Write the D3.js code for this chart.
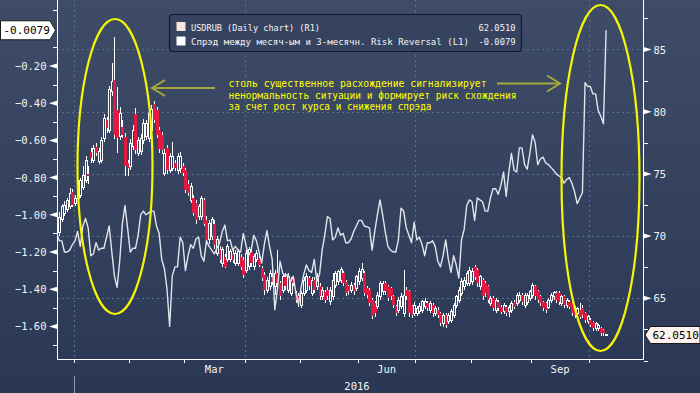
<!DOCTYPE html>
<html>
<head>
<meta charset="utf-8">
<style>
    body { margin: 0; background: #2b3a57; }
    svg { display: block; font-family: 'DejaVu Sans Mono', monospace; }
</style>
</head>
<body>
<svg width="700" height="393"></svg>

<script src="https://d3js.org/d3.v7.min.js"></script>
<script>
    // trading days (weekdays) shown on the chart
    const firstDay = new Date(2015, 11, 23);
    const lastDay = new Date(2016, 9, 11);

    // USDRUB daily candles (right axis)
    const rubOpen = [
        71.3,70.25,71.3,71.8,72.1,72.4,73.55,72.6,73.0,73.3,
        73.9,74.5,75.0,76.8,76.1,77.2,76.0,76.1,77.85,79.35,
        78.5,81.6,82.55,80.15,78.0,78.8,78.0,75.85,75.6,77.2,
        79.85,76.65,76.8,77.7,78.0,77.85,78.5,80.65,80.15,78.55,
        78.15,75.05,77.05,75.3,75.4,75.85,75.3,75.4,75.6,75.3,
        74.2,72.9,73.05,72.65,71.55,71.55,72.9,71.3,69.7,69.95,
        71.0,68.6,68.9,67.8,68.35,68.1,68.1,68.6,67.8,67.8,
        68.35,68.1,67.25,67.55,68.75,67.55,68.1,68.2,67.4,66.85,
        65.65,65.95,66.75,65.95,67.0,66.2,65.65,66.75,65.65,65.4,
        66.6,65.4,65.15,64.45,65.4,65.65,66.6,65.4,66.45,65.95,
        65.95,65.15,65.5,65.65,64.75,65.15,66.05,66.35,66.4,67.0,
        66.35,65.95,65.65,66.05,65.8,66.35,66.6,67.0,65.8,65.65,
        64.85,64.6,64.35,65.15,65.55,66.2,65.95,65.8,65.15,64.35,
        64.05,64.35,63.8,65.65,65.55,64.35,63.8,63.8,63.95,64.05,
        64.35,64.6,64.05,64.45,63.8,64.05,63.8,63.0,63.65,63.15,
        63.25,63.65,64.45,64.85,65.4,65.95,66.2,66.2,66.35,67.55,
        67.25,65.95,66.45,66.2,65.95,64.6,65.0,64.05,64.7,64.3,
        63.9,64.3,63.9,64.05,64.7,64.6,64.85,65.25,64.45,64.7,
        65.0,65.25,65.95,65.55,65.15,64.7,64.6,64.3,64.85,65.15,
        65.4,65.4,64.6,65.15,64.45,64.7,64.6,64.2,63.8,64.05,
        64.2,63.8,63.1,63.25,63.1,62.6,62.6,62.6,62.45,62.0
    ];
    const rubHigh = [
        71.6,71.9,72.6,72.8,73.1,73.9,73.8,73.3,74.5,74.7,
        75.6,76.4,75.6,77.1,77.3,77.5,77.1,78.0,79.8,79.6,
        82.1,83.9,86.0,82.0,80.4,79.3,78.3,76.1,77.8,78.9,
        80.3,78.0,78.2,79.4,79.3,80.1,80.5,80.9,80.4,78.8,
        78.4,77.0,77.3,76.7,77.6,76.1,76.7,76.8,75.9,75.5,
        74.5,74.3,73.3,72.9,72.6,73.2,73.1,71.6,71.3,71.5,
        71.3,70.0,69.2,69.1,68.6,69.4,69.0,68.9,68.9,69.0,
        68.6,68.3,68.9,69.1,69.0,68.6,68.9,68.5,67.6,67.1,
        66.7,67.3,67.0,67.3,68.9,66.4,67.0,67.0,67.0,66.7,
        66.8,65.6,65.4,65.6,66.7,67.0,66.8,66.7,66.7,67.0,
        66.2,65.9,65.7,65.9,65.9,67.0,67.2,67.3,67.5,67.2,
        66.5,66.1,66.3,66.2,66.9,67.4,67.8,67.2,66.0,65.8,
        65.0,64.8,65.5,66.4,66.4,66.4,66.1,65.9,65.3,64.5,
        65.1,65.4,67.3,65.9,65.7,64.5,64.7,64.4,64.6,64.9,
        65.0,64.8,64.8,64.6,64.4,64.3,63.9,63.8,63.8,63.8,
        64.1,64.6,65.3,65.9,66.6,66.7,67.2,67.5,67.4,67.7,
        67.4,66.9,66.6,66.4,66.1,65.2,65.2,65.0,64.9,64.5,
        64.6,64.5,64.5,64.8,64.9,65.4,65.5,65.4,65.4,65.4,
        65.7,66.2,66.1,65.7,65.3,64.8,64.7,65.0,65.4,65.6,
        65.6,65.6,65.3,65.3,65.0,64.9,64.7,64.4,64.3,64.6,
        64.45,63.9,63.65,63.4,63.2,63.1,62.9,62.7,62.5,62.1
    ];
    const rubLow = [
        69.7,70.0,71.1,71.6,71.9,72.2,72.3,72.4,72.8,73.1,
        73.7,74.3,74.2,75.9,75.9,76.4,75.8,75.9,77.6,78.3,
        78.3,81.3,77.8,76.7,77.7,77.9,74.8,74.8,75.3,76.9,
        76.6,76.4,76.5,77.4,77.7,77.6,78.3,79.1,77.9,76.7,
        76.6,74.8,75.0,75.1,75.2,75.2,75.0,75.1,74.8,73.5,
        73.2,72.7,71.6,71.0,71.3,71.3,70.8,69.4,69.4,69.7,
        69.0,68.4,67.8,67.5,67.4,67.9,67.9,67.8,67.6,67.6,
        67.3,66.6,67.0,67.3,67.5,67.3,67.9,67.5,66.4,65.3,
        65.4,65.7,66.1,65.3,66.0,64.9,65.4,65.7,65.4,65.2,
        66.0,64.6,64.3,64.2,65.2,65.4,65.7,65.2,65.4,65.7,
        64.9,64.9,64.6,64.9,64.5,64.9,65.8,66.1,66.2,66.0,
        65.2,65.3,65.4,65.3,65.6,66.1,66.4,65.2,65.0,64.4,
        63.3,63.5,64.1,64.9,65.3,65.3,64.8,64.9,64.2,63.6,
        63.8,64.1,63.5,64.9,63.5,63.4,63.6,63.6,63.7,63.8,
        64.1,64.0,63.8,63.5,63.6,63.4,62.8,62.7,62.6,62.9,
        63.0,63.4,64.2,64.6,65.2,65.7,66.0,66.0,66.1,66.5,
        65.9,65.7,64.9,65.1,64.6,64.4,64.0,63.8,64.0,63.7,
        63.7,63.6,63.5,63.8,64.1,64.4,64.6,64.5,64.2,64.5,
        64.8,65.0,64.9,64.6,64.4,64.0,63.8,64.1,64.6,64.9,
        64.6,64.5,64.4,64.2,64.2,64.1,63.6,63.4,63.6,63.3,
        63.4,63.0,62.9,62.7,62.4,62.4,62.4,62.0,62.0,61.95
    ];
    const rubClose = [
        70.25,71.5,72.35,72.5,72.9,73.4,72.5,73.0,73.45,74.5,
        74.9,76.1,74.8,76.25,77.05,76.65,76.8,77.7,79.45,78.65,
        81.75,82.4,78.15,77.85,79.85,78.15,75.6,75.45,77.45,78.5,
        76.9,77.7,77.85,79.05,79.05,79.85,80.15,79.35,78.15,77.0,
        76.9,76.65,75.3,76.4,76.4,75.45,76.4,76.4,75.05,73.7,
        73.45,74.0,71.85,71.3,72.35,73.05,71.0,69.7,71.0,71.3,
        69.3,69.7,68.1,68.9,67.55,69.15,68.75,68.1,68.6,68.75,
        67.55,66.85,68.6,68.9,67.8,68.35,68.6,67.7,66.6,65.65,
        66.45,67.0,66.35,67.0,66.2,65.15,66.75,65.95,66.75,66.45,
        66.2,64.85,64.75,65.4,66.45,66.75,65.95,66.45,65.65,66.75,
        65.15,65.65,64.85,65.15,65.65,66.45,67.0,67.15,67.3,66.2,
        65.4,65.55,66.05,65.55,66.75,67.15,67.3,65.4,65.25,64.6,
        63.55,63.8,65.25,66.2,66.2,65.55,65.0,65.15,64.45,63.8,
        64.85,65.15,65.25,65.15,63.8,63.65,64.45,64.2,64.35,64.75,
        64.75,64.2,64.6,63.8,64.2,63.65,63.0,63.65,62.85,63.65,
        63.95,64.45,65.15,65.65,66.35,66.45,67.0,67.25,67.15,66.75,
        66.2,66.75,65.15,65.4,64.85,65.0,64.2,64.85,64.2,63.9,
        64.45,63.8,64.3,64.6,64.3,65.25,65.25,64.7,65.25,65.25,
        65.55,66.05,65.15,64.85,64.6,64.2,64.05,64.85,65.25,65.45,
        64.85,64.7,65.15,64.45,64.85,64.3,63.8,63.65,64.2,63.5,
        63.65,63.25,63.5,62.85,62.6,63.0,62.85,62.2,62.2,62.051
    ];

    // 1M - 3M risk reversal spread (left axis)
    const spread = [
        -1.10,-1.14,-1.14,-1.20,-1.20,-1.19,-1.16,-1.14,-1.09,-1.17,
        -1.06,-1.02,-1.07,-1.22,-1.21,-1.15,-1.19,-1.18,-1.18,-1.12,
        -1.06,-1.20,-1.33,-1.39,-1.25,-1.05,-0.95,-1.07,-1.20,-1.18,
        -1.18,-1.11,-1.00,-0.98,-1.00,-0.99,-0.98,-0.98,-1.06,-1.10,
        -1.24,-1.29,-1.40,-1.60,-1.33,-1.28,-1.28,-1.12,-1.15,-1.30,
        -1.22,-1.16,-1.18,-1.13,-1.12,-1.22,-1.25,-1.14,-1.17,-1.19,
        -1.21,-1.18,-1.15,-1.09,-1.055,-1.14,-1.135,-1.19,-1.17,-1.19,
        -1.20,-1.10,-1.16,-1.22,-1.19,-1.11,-1.14,-1.20,-1.26,-1.16,
        -1.085,-1.17,-1.24,-1.51,-1.40,-1.25,-1.315,-1.33,-1.32,-1.36,
        -1.33,-1.42,-1.48,-1.39,-1.32,-1.27,-1.30,-1.31,-1.24,-1.36,
        -1.32,-1.19,-1.11,-1.01,-1.02,-1.135,-1.12,-1.07,-1.11,-1.10,
        -1.15,-1.15,-1.13,-1.09,-1.06,-1.03,-1.03,-1.06,-1.064,-1.07,
        -1.19,-1.09,-1.00,-0.92,-1.00,-1.09,-1.17,-1.19,-1.20,-1.20,
        -1.135,-0.965,-0.98,-1.07,-1.11,-1.15,-1.04,-1.135,-1.12,-1.16,
        -1.22,-1.15,-1.15,-1.14,-1.17,-1.25,-1.28,-1.22,-1.135,-1.24,
        -1.31,-1.22,-1.27,-1.34,-1.135,-1.08,-0.95,-0.92,-0.93,-1.03,
        -0.91,-0.92,-0.93,-0.98,-0.98,-0.91,-0.86,-0.86,-0.89,-0.84,
        -0.77,-0.90,-0.77,-0.67,-0.76,-0.77,-0.64,-0.64,-0.73,-0.755,
        -0.67,-0.57,-0.61,-0.73,-0.70,-0.69,-0.72,-0.73,-0.745,-0.76,
        -0.78,-0.79,-0.80,-0.83,-0.81,-0.80,-0.83,-0.875,-0.94,-0.91,
        -0.88,-0.29,-0.31,-0.31,-0.35,-0.35,-0.44,-0.47,-0.51,-0.0079
    ];

    const leftMajor = [-1.6, -1.4, -1.2, -1.0, -0.8, -0.6, -0.4, -0.2];
    const leftMinor = [-1.7, -1.5, -1.3, -1.1, -0.9, -0.7, -0.5, -0.3, -0.1, 0.1];
    const rightMajor = [65, 70, 75, 80, 85];
    const rightMinor = [60, 62.5, 67.5, 72.5, 77.5, 82.5, 87.5];
    const monthNames = ["Mar", "Jun", "Sep"];
    const yearLabel = "2016";

    const legendNames = ["USDRUB (Daily chart) (R1)",
        "Спрэд между месяч-ым и 3-месячн. Risk Reversal (L1)"];
    const lastRub = "62.0510";
    const lastSpread = "-0.0079";
    const noteLines = [
        "столь существенное расхождение сигнализирует",
        "ненормальность ситуации и формирует риск схождения",
        "за счет рост курса и снижения спрэда"
    ];

    // ------------------------------------------------------------
    let width = 700, height = 393;
    let plotL = 57, plotR = 643.7, plotB = 359;

    let svg = d3.select("svg");
    let defs = svg.append("defs");

    let bg = defs.append("linearGradient").attr("id", "bg")
        .attr("x1", 0).attr("y1", 0).attr("x2", 0).attr("y2", 1);
    bg.append("stop").attr("offset", "0%").attr("stop-color", "#3f4c68");
    bg.append("stop").attr("offset", "100%").attr("stop-color", "#2a3855");

    defs.append("clipPath").attr("id", "plotclip")
        .append("rect")
        .attr("x", plotL + 0.5).attr("y", 0)
        .attr("width", plotR - plotL - 1).attr("height", plotB);

    svg.append("rect").attr("width", width).attr("height", height).attr("fill", "url(#bg)");

    let days = d3.timeDay.range(firstDay, d3.timeDay.offset(lastDay, 1))
        .filter(d => d.getDay() !== 0 && d.getDay() !== 6);

    let x = d3.scaleLinear().domain([0, days.length - 1]).range([56.6, 606.1]);
    let yR = d3.scaleLinear().domain([60, 90]).range([360.5, -12.7]);
    let yL = d3.scaleLinear().domain([-1.8, 0.2]).range([363.6, -8.4]);

    // month boundaries (first trading day of each month)
    let monthStarts = [];
    days.forEach((d, i) => {
        if (i > 0 && d.getMonth() !== days[i - 1].getMonth()) {
            monthStarts.push({ i: i, date: d });
        }
    });

    // GRID --------
    let grid = svg.append("g")
        .attr("stroke", "#5b708c")
        .attr("stroke-width", 1)
        .attr("stroke-dasharray", "2,3");

    grid.selectAll(".hgrid")
        .data(rightMajor)
        .join("line")
        .attr("x1", plotL).attr("x2", plotR)
        .attr("y1", d => Math.round(yR(d)) + 0.5)
        .attr("y2", d => Math.round(yR(d)) + 0.5);

    grid.selectAll(".vgrid")
        .data(monthStarts.filter(m => m.date.getMonth() % 3 === 0))
        .join("line")
        .attr("x1", d => Math.round(x(d.i - 0.5)) + 0.5)
        .attr("x2", d => Math.round(x(d.i - 0.5)) + 0.5)
        .attr("y1", 0).attr("y2", plotB);

    // CANDLES --------
    let plot = svg.append("g").attr("clip-path", "url(#plotclip)");
    let candles = plot.append("g").attr("shape-rendering", "crispEdges");

    rubClose.forEach((c, i) => {
        let o = rubOpen[i];
        let cx = Math.round(x(i));
        let top = yR(Math.max(o, c)), bot = yR(Math.min(o, c));
        if (bot - top < 1) bot = top + 1;
        let up = c >= o;

        candles.append("line")
            .attr("x1", cx + 0.5).attr("x2", cx + 0.5)
            .attr("y1", yR(rubHigh[i])).attr("y2", top)
            .attr("stroke", "#ffffff");
        candles.append("line")
            .attr("x1", cx + 0.5).attr("x2", cx + 0.5)
            .attr("y1", bot).attr("y2", yR(rubLow[i]))
            .attr("stroke", "#ffffff");

        if (up) {
            candles.append("rect")
                .attr("x", cx - 0.5).attr("y", top)
                .attr("width", 2).attr("height", bot - top)
                .attr("fill", "#34425e")
                .attr("stroke", "#ffffff")
                .attr("stroke-width", 1);
        } else {
            candles.append("rect")
                .attr("x", cx - 1).attr("y", top)
                .attr("width", 3).attr("height", bot - top)
                .attr("fill", "#e4193f");
        }
    });

    // SPREAD LINE --------
    let line = d3.line()
        .x((d, i) => x(i))
        .y(d => yL(d));

    plot.append("path")
        .datum(spread)
        .attr("d", line)
        .attr("fill", "none")
        .attr("stroke", "#e2e5ec")
        .attr("stroke-width", 1.4)
        .attr("stroke-linejoin", "round");

    // AXES --------
    let axes = svg.append("g").attr("stroke", "#ffffff").attr("shape-rendering", "crispEdges");
    axes.append("line").attr("x1", plotL + 0.5).attr("x2", plotL + 0.5).attr("y1", 0).attr("y2", plotB + 0.5);
    axes.append("line").attr("x1", plotR).attr("x2", plotR).attr("y1", 0).attr("y2", plotB + 0.5);
    axes.append("line").attr("x1", plotL).attr("x2", plotR + 0.5).attr("y1", plotB + 0.5).attr("y2", plotB + 0.5);

    axes.selectAll(".lminor")
        .data(leftMinor)
        .join("line")
        .attr("x1", plotL - 4).attr("x2", plotL)
        .attr("y1", d => Math.round(yL(d)) + 0.5)
        .attr("y2", d => Math.round(yL(d)) + 0.5);

    axes.selectAll(".rminor")
        .data(rightMinor)
        .join("line")
        .attr("x1", plotR).attr("x2", plotR + 4)
        .attr("y1", d => Math.round(yR(d)) + 0.5)
        .attr("y2", d => Math.round(yR(d)) + 0.5);

    axes.selectAll(".bticks")
        .data(monthStarts)
        .join("line")
        .attr("x1", d => Math.round(x(d.i - 0.5)) + 0.5)
        .attr("x2", d => Math.round(x(d.i - 0.5)) + 0.5)
        .attr("y1", plotB).attr("y2", plotB + 4);

    // year separator
    let jan = monthStarts.find(m => m.date.getMonth() === 0);
    svg.append("line")
        .attr("x1", Math.round(x(jan.i - 0.5)) + 0.5)
        .attr("x2", Math.round(x(jan.i - 0.5)) + 0.5)
        .attr("y1", 376).attr("y2", height)
        .attr("stroke", "#8c9ab0");

    svg.selectAll(".ltri")
        .data(leftMajor)
        .join("path")
        .attr("d", d => {
            let y = yL(d);
            return `M${plotL},${y - 2.5}L${plotL - 8},${y}L${plotL},${y + 2.5}Z`;
        })
        .attr("fill", "#ffffff");

    svg.selectAll(".rtri")
        .data(rightMajor)
        .join("path")
        .attr("d", d => {
            let y = yR(d);
            return `M${plotR},${y - 2.5}L${plotR + 8},${y}L${plotR},${y + 2.5}Z`;
        })
        .attr("fill", "#ffffff");

    svg.selectAll(".llab")
        .data(leftMajor)
        .join("text")
        .attr("x", 46.5)
        .attr("y", d => yL(d) + 4)
        .attr("text-anchor", "end")
        .attr("font-size", 10.5)
        .attr("fill", "#f4f4f4")
        .text(d => d3.format(".2f")(d).replace("-", "−"));

    svg.selectAll(".rlab")
        .data(rightMajor)
        .join("text")
        .attr("x", 653.5)
        .attr("y", d => yR(d) + 4)
        .attr("font-size", 10.5)
        .attr("fill", "#f4f4f4")
        .text(d => d);

    // month labels centred in their month
    let fmtMonth = d3.timeFormat("%b");
    monthStarts.forEach((m, k) => {
        let name = fmtMonth(m.date);
        if (!monthNames.includes(name) || k + 1 >= monthStarts.length) return;
        let cx = (x(m.i - 0.5) + x(monthStarts[k + 1].i - 0.5)) / 2;
        svg.append("text")
            .attr("x", cx).attr("y", 373)
            .attr("text-anchor", "middle")
            .attr("font-size", 10.5)
            .attr("fill", "#f4f4f4")
            .text(name);
    });

    svg.append("text")
        .attr("x", 357).attr("y", 390)
        .attr("text-anchor", "middle")
        .attr("font-size", 10.5)
        .attr("fill", "#f4f4f4")
        .text(yearLabel);

    // LEGEND --------
    let lg = svg.append("g");
    lg.append("rect")
        .attr("x", 169.5).attr("y", 14.5)
        .attr("width", 352).attr("height", 37)
        .attr("rx", 3)
        .attr("fill", "#36435f")
        .attr("stroke", "#121a2b")
        .attr("stroke-width", 1.2);

    let swatches = ["#fbe6df", "#ffffff"];
    legendNames.forEach((name, k) => {
        let yb = 30.5 + k * 14.5;
        lg.append("rect")
            .attr("x", 176.5).attr("y", yb - 8.5)
            .attr("width", 9).attr("height", 9)
            .attr("fill", swatches[k]);
        lg.append("text")
            .attr("x", 191).attr("y", yb)
            .attr("font-size", 8.8)
            .attr("fill", "#f4f4f4")
            .attr("textLength", k === 0 ? 129 : 278)
            .attr("lengthAdjust", "spacingAndGlyphs")
            .text(name);
        lg.append("text")
            .attr("x", 515.5).attr("y", yb)
            .attr("text-anchor", "end")
            .attr("font-size", 8.8)
            .attr("fill", "#f4f4f4")
            .attr("textLength", 37)
            .attr("lengthAdjust", "spacingAndGlyphs")
            .text(k === 0 ? lastRub : lastSpread);
    });

    // ANNOTATION --------
    let noteWidths = [258, 288, 203];
    noteLines.forEach((t, k) => {
        svg.append("text")
            .attr("x", 228.5).attr("y", 87 + k * 11.7)
            .attr("font-size", 10)
            .attr("fill", "#ffff00")
            .attr("textLength", noteWidths[k])
            .attr("lengthAdjust", "spacingAndGlyphs")
            .text(t);
    });

    let arrowColor = "#a7a83b";
    let arrows = svg.append("g")
        .attr("stroke", arrowColor).attr("stroke-width", 2).attr("fill", "none");
    arrows.append("line").attr("x1", 152).attr("y1", 88).attr("x2", 215).attr("y2", 88);
    arrows.append("polyline").attr("points", "165,80 152,88 165,96");
    arrows.append("line").attr("x1", 497).attr("y1", 83.5).attr("x2", 560).attr("y2", 83.5);
    arrows.append("polyline").attr("points", "547,75.5 560,83.5 547,91.5");

    // ellipses
    svg.append("ellipse")
        .attr("cx", 115).attr("cy", 166.5).attr("rx", 37.5).attr("ry", 147.5)
        .attr("fill", "none").attr("stroke", "#f6f600").attr("stroke-width", 2.2);
    svg.append("ellipse")
        .attr("cx", 600.5).attr("cy", 178).attr("rx", 39).attr("ry", 173)
        .attr("fill", "none").attr("stroke", "#f6f600").attr("stroke-width", 2.2);

    // LAST VALUE TAGS --------
    let ly = yL(+lastSpread);
    svg.append("path")
        .attr("d", `M0.5,${ly - 9.5}H50L55.5,${ly}L50,${ly + 9.5}H0.5Z`)
        .attr("fill", "#ffffff").attr("stroke", "#1a1a1a");
    svg.append("text")
        .attr("x", 3.5).attr("y", ly + 4)
        .attr("font-size", 11).attr("fill", "#000000")
        .text(lastSpread);

    let ry = yR(+lastRub);
    svg.append("path")
        .attr("d", `M645,${ry}L650.5,${ry - 8.5}H700V${ry + 8.5}H650.5Z`)
        .attr("fill", "#fdf2ed").attr("stroke", "#1a1a1a");
    svg.append("text")
        .attr("x", 652.5).attr("y", ry + 4)
        .attr("font-size", 11).attr("fill", "#000000")
        .text(lastRub);
</script>
</body>
</html>
